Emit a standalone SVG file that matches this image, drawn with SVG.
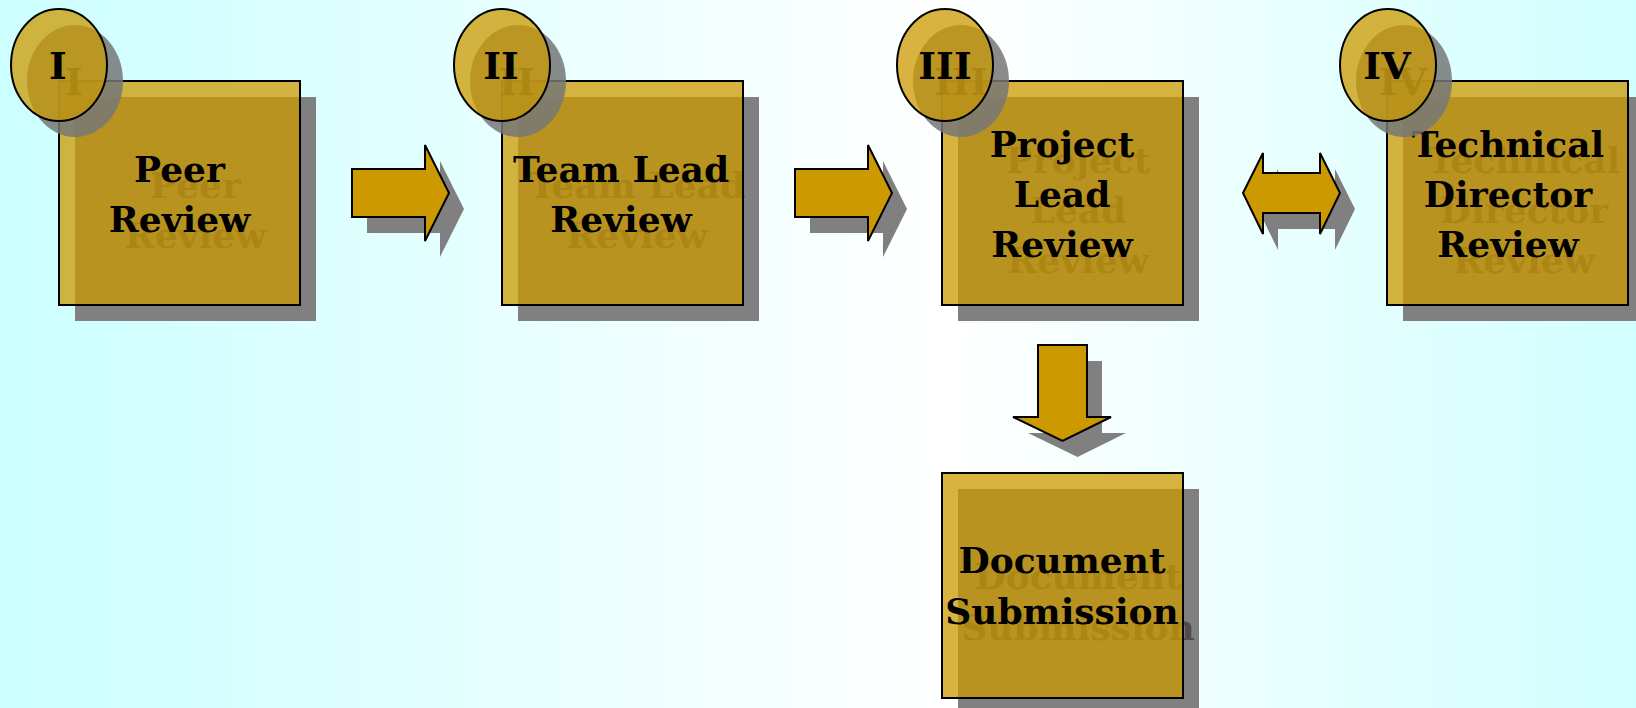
<svg xmlns="http://www.w3.org/2000/svg" width="1636" height="708" viewBox="0 0 1636 708">
<defs>
<linearGradient id="bg" x1="0" y1="0" x2="1" y2="0">
<stop offset="0" stop-color="#ccffff"/>
<stop offset="0.58" stop-color="#ffffff"/>
<stop offset="1" stop-color="#d2ffff"/>
</linearGradient>
<style>
.sh{fill:#808080}
.esh{fill:#777777;fill-opacity:0.85}
.st{fill:#4d4d4d}
.box{fill:#cc9900;fill-opacity:0.75;stroke:#000;stroke-width:2}
.arr{fill:#cc9900;stroke:#000;stroke-width:2;stroke-linejoin:miter}
.t{font-family:"DejaVu Serif",serif;font-weight:bold;font-size:36px;text-anchor:middle}
.n{font-size:38px}
.k{fill:#000}
</style>
</defs>
<rect width="1636" height="708" fill="url(#bg)"/>

<g id="connectors">
<g transform="translate(15,16)" class="sh">
<polygon points="352,169 425,169 425,145 449,193 425,241 425,217 352,217"/>
<polygon points="795,169 868,169 868,145 892,193 868,241 868,217 795,217"/>
<polygon points="1243,193 1263,153 1263,173 1320,173 1320,153 1340,193 1320,234 1320,213 1263,213 1263,234"/>
<polygon points="1038,345 1087,345 1087,417 1111,417 1062.5,441 1013,417 1038,417"/>
</g>
<polygon class="arr" points="352,169 425,169 425,145 449,193 425,241 425,217 352,217"/>
<polygon class="arr" points="795,169 868,169 868,145 892,193 868,241 868,217 795,217"/>
<polygon class="arr" points="1243,193 1263,153 1263,173 1320,173 1320,153 1340,193 1320,234 1320,213 1263,213 1263,234"/>
<polygon class="arr" points="1038,345 1087,345 1087,417 1111,417 1062.5,441 1013,417 1038,417"/>
</g>

<g id="node-peer">
<g transform="translate(16,16)">
<rect class="sh" x="59" y="81" width="241" height="224"/>
<text class="t st" x="179.5" y="182">Peer</text>
<text class="t st" x="179.5" y="232">Review</text>
</g>
<rect class="box" x="59" y="81" width="241" height="224"/>
<text class="t k" x="179.5" y="182">Peer</text>
<text class="t k" x="179.5" y="232">Review</text>
<g transform="translate(16,16)">
<ellipse class="esh" cx="59" cy="65" rx="48" ry="56"/>
<text class="t n st" x="58" y="79">I</text>
</g>
<ellipse class="box" cx="59" cy="65" rx="48" ry="56"/>
<text class="t n k" x="58" y="79">I</text>
</g>

<g id="node-team">
<g transform="translate(16,16)">
<rect class="sh" x="502" y="81" width="241" height="224"/>
<text class="t st" x="621" y="182">Team Lead</text>
<text class="t st" x="621" y="232">Review</text>
</g>
<rect class="box" x="502" y="81" width="241" height="224"/>
<text class="t k" x="621" y="182">Team Lead</text>
<text class="t k" x="621" y="232">Review</text>
<g transform="translate(16,16)">
<ellipse class="esh" cx="502" cy="65" rx="48" ry="56"/>
<text class="t n st" x="501" y="79">II</text>
</g>
<ellipse class="box" cx="502" cy="65" rx="48" ry="56"/>
<text class="t n k" x="501" y="79">II</text>
</g>

<g id="node-project">
<g transform="translate(16,16)">
<rect class="sh" x="942" y="81" width="241" height="224"/>
<text class="t st" x="1062" y="157">Project</text>
<text class="t st" x="1062" y="207">Lead</text>
<text class="t st" x="1062" y="257">Review</text>
</g>
<rect class="box" x="942" y="81" width="241" height="224"/>
<text class="t k" x="1062" y="157">Project</text>
<text class="t k" x="1062" y="207">Lead</text>
<text class="t k" x="1062" y="257">Review</text>
<g transform="translate(16,16)">
<ellipse class="esh" cx="945" cy="65" rx="48" ry="56"/>
<text class="t n st" x="945" y="79">III</text>
</g>
<ellipse class="box" cx="945" cy="65" rx="48" ry="56"/>
<text class="t n k" x="945" y="79">III</text>
</g>

<g id="node-technical">
<g transform="translate(16,16)">
<rect class="sh" x="1387" y="81" width="241" height="224"/>
<text class="t st" x="1508" y="157">Technical</text>
<text class="t st" x="1508" y="207">Director</text>
<text class="t st" x="1508" y="257">Review</text>
</g>
<rect class="box" x="1387" y="81" width="241" height="224"/>
<text class="t k" x="1508" y="157">Technical</text>
<text class="t k" x="1508" y="207">Director</text>
<text class="t k" x="1508" y="257">Review</text>
<g transform="translate(16,16)">
<ellipse class="esh" cx="1388" cy="65" rx="48" ry="56"/>
<text class="t n st" x="1387" y="79">IV</text>
</g>
<ellipse class="box" cx="1388" cy="65" rx="48" ry="56"/>
<text class="t n k" x="1387" y="79">IV</text>
</g>

<g id="node-submission">
<g transform="translate(16,16)">
<rect class="sh" x="942" y="473" width="241" height="225"/>
<text class="t st" x="1062" y="573">Document</text>
<text class="t st" x="1062" y="624">Submission</text>
</g>
<rect class="box" x="942" y="473" width="241" height="225"/>
<text class="t k" x="1062" y="573">Document</text>
<text class="t k" x="1062" y="624">Submission</text>
</g>
</svg>
